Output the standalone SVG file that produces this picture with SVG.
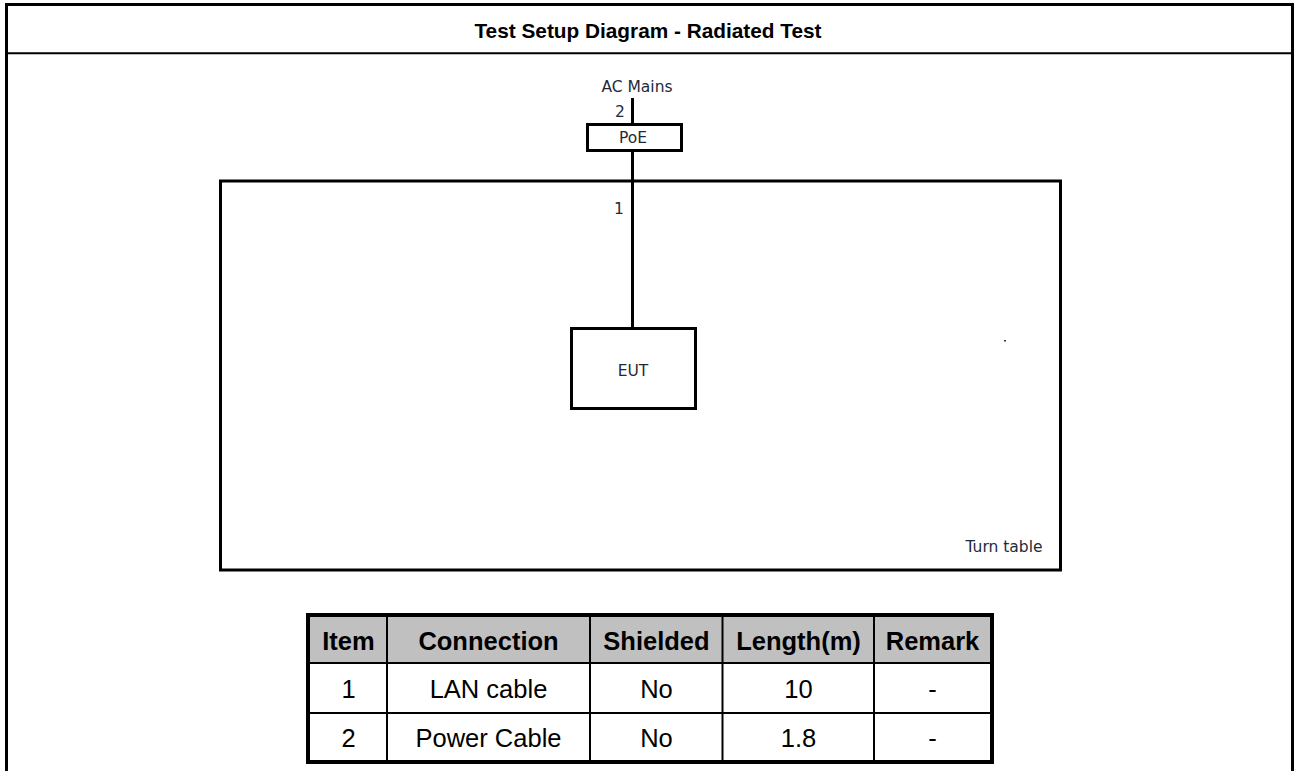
<svg xmlns="http://www.w3.org/2000/svg" width="1295" height="771" viewBox="0 0 1295 771">
<style>
.frame{stroke:#000;fill:none}
.box{fill:#fff;stroke:#000;stroke-width:3}
.lbl{font-family:"DejaVu Sans",sans-serif;font-size:15.5px;fill:#1e2a3a;text-anchor:middle}
.title{font-family:"Liberation Sans",Arial,sans-serif;font-size:20.8px;font-weight:bold;fill:#000;text-anchor:middle}
.th{font-family:"Liberation Sans",Arial,sans-serif;font-size:25.5px;font-weight:bold;fill:#000;text-anchor:middle}
.td{font-family:"Liberation Sans",Arial,sans-serif;font-size:25.5px;fill:#000;text-anchor:middle}
.grid{stroke:#000;stroke-width:2}
</style>
<rect width="1295" height="771" fill="#fff"/>
<g id="frame">
<line class="frame" x1="6.5" y1="3" x2="6.5" y2="771" stroke-width="3"/>
<line class="frame" x1="1292.5" y1="3" x2="1292.5" y2="771" stroke-width="3"/>
<line class="frame" x1="5" y1="4.5" x2="1294" y2="4.5" stroke-width="3"/>
<line class="frame" x1="6" y1="53.3" x2="1293" y2="53.3" stroke-width="2"/>
<text class="title" x="648" y="38">Test Setup Diagram - Radiated Test</text>
</g>
<g id="turntable">
<rect class="box" x="220.5" y="181" width="840" height="389"/>
<text class="lbl" x="1004" y="552">Turn table</text>
<rect x="1004" y="340" width="2" height="1.5" fill="#333"/>
</g>
<g id="connectors">
<line x1="632.5" y1="98" x2="632.5" y2="328" stroke="#000" stroke-width="3"/>
<text class="lbl" x="620" y="117">2</text>
<text class="lbl" x="619" y="214">1</text>
</g>
<g id="acmains">
<text class="lbl" x="637" y="92">AC Mains</text>
</g>
<g id="poe">
<rect class="box" x="587.5" y="124.5" width="94" height="26"/>
<text class="lbl" x="633" y="143">PoE</text>
</g>
<g id="eut">
<rect class="box" x="571.5" y="328.5" width="124" height="80"/>
<text class="lbl" x="633" y="376">EUT</text>
</g>
<g id="table">
<rect x="308" y="615" width="684" height="48" fill="#c0c0c0"/>
<rect x="308" y="663" width="684" height="97" fill="#fff"/>
<line class="grid" x1="387" y1="615" x2="387" y2="762"/>
<line class="grid" x1="590" y1="615" x2="590" y2="762"/>
<line class="grid" x1="722.5" y1="615" x2="722.5" y2="762"/>
<line class="grid" x1="874" y1="615" x2="874" y2="762"/>
<line class="grid" x1="308" y1="663" x2="992" y2="663"/>
<line class="grid" x1="308" y1="713" x2="992" y2="713"/>
<rect x="308" y="615" width="684" height="147" fill="none" stroke="#000" stroke-width="4"/>
<text class="th" x="348.5" y="649.5">Item</text>
<text class="th" x="488.5" y="649.5">Connection</text>
<text class="th" x="656.5" y="649.5">Shielded</text>
<text class="th" x="798.5" y="649.5">Length(m)</text>
<text class="th" x="932.5" y="649.5">Remark</text>
<text class="td" x="348.5" y="697.5">1</text>
<text class="td" x="488.5" y="697.5">LAN cable</text>
<text class="td" x="656.5" y="697.5">No</text>
<text class="td" x="798.5" y="697.5">10</text>
<text class="td" x="932.5" y="697.5">-</text>
<text class="td" x="348.5" y="746.5">2</text>
<text class="td" x="488.5" y="746.5">Power Cable</text>
<text class="td" x="656.5" y="746.5">No</text>
<text class="td" x="798.5" y="746.5">1.8</text>
<text class="td" x="932.5" y="746.5">-</text>
</g>
</svg>
